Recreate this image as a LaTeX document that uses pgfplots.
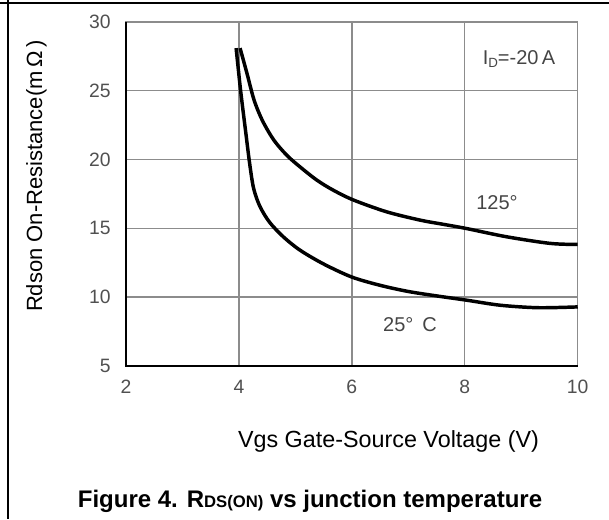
\documentclass[border=0pt]{standalone}
\usepackage{fontspec}
\setmainfont{Liberation Sans}
\usepackage{pgfplots}
\pgfplotsset{compat=1.18}

\definecolor{gridgray}{HTML}{8C8C8C}
\definecolor{ticktext}{HTML}{505050}
\definecolor{annot}{HTML}{454545}

\begin{document}
\begin{tikzpicture}
% page frame, in pixel units of the reference (609 x 519)
\begin{scope}[x=0.75pt,y=-0.75pt]
\path[use as bounding box] (0,0) rectangle (609,519);
\draw[line width=1.8pt] (8,0) -- (8,519);
\draw[line width=1.3pt] (0,3) -- (609,3);
\node[rotate=90, anchor=base, font=\fontsize{16.5}{20}\selectfont] at (42,176)
  {Rdson On-Resistance(m\,Ω\,)};
\node[anchor=base, font=\fontsize{17.5}{21}\selectfont] at (388.5,447)
  {Vgs Gate-Source Voltage (V)};
\node[anchor=base, font=\bfseries\fontsize{18}{21}\selectfont] at (310,507)
  {Figure 4. R{\fontsize{12.5}{12}\selectfont DS(ON)} vs junction temperature};
\end{scope}

\begin{axis}[
    at={(94.5pt,-274.3pt)}, anchor=south west,
    scale only axis,
    width=338.8pt, height=257.8pt,
    xmin=2, xmax=10,
    ymin=5, ymax=30,
    xtick={2,4,...,10},
    ytick={5,10,...,30},
    grid=major,
    grid style={gridgray, line width=1pt},
    major tick length=0pt,
    axis line style={gridgray, line width=1pt},
    tick label style={font=\fontsize{14.5}{16}\selectfont, text=ticktext},
    /pgf/number format/assume math mode=true,
    yticklabel style={xshift=-8pt},
    xticklabel style={yshift=-7pt},
    clip=false,
]
\draw[black, line width=1.5pt] (rel axis cs:0,1) -- (rel axis cs:0,0) -- (rel axis cs:1,0);

% 125 C
\addplot[black, line width=2.6pt, smooth, tension=0.5] coordinates {
    (4.02,28.1) (4.14,26.3) (4.27,24.3) (4.42,22.8) (4.62,21.4)
    (4.85,20.3) (5.08,19.47) (5.38,18.5) (5.67,17.77) (6.03,17.05)
    (6.62,16.19) (7.21,15.59) (7.6,15.3) (8.03,14.98) (8.74,14.38)
    (9.51,13.9) (10.0,13.82)
};
% 25 C
\addplot[black, line width=2.6pt, smooth, tension=0.5] coordinates {
    (3.95,28.1) (4.03,25.0) (4.12,22.0) (4.19,19.7) (4.26,17.9)
    (4.37,16.6) (4.54,15.45) (4.78,14.4) (5.08,13.41) (5.5,12.4)
    (6.0,11.45) (6.5,10.85) (7.0,10.4) (7.5,10.08) (8.03,9.77)
    (8.63,9.40) (9.3,9.22) (10.0,9.28)
};

\node[text=annot, font=\fontsize{15}{17}\selectfont] at (axis cs:8.96,27.3)
  {I{\fontsize{10}{10}\selectfont\raisebox{-0.45ex}{D}}=-20\,A};
\node[text=annot, font=\fontsize{15}{17}\selectfont] at (axis cs:8.57,16.9) {125°};
\node[text=annot, font=\fontsize{15}{17}\selectfont] at (axis cs:7.03,8.02) {25°\hspace{0.45em}C};
\end{axis}
\end{tikzpicture}
\end{document}
